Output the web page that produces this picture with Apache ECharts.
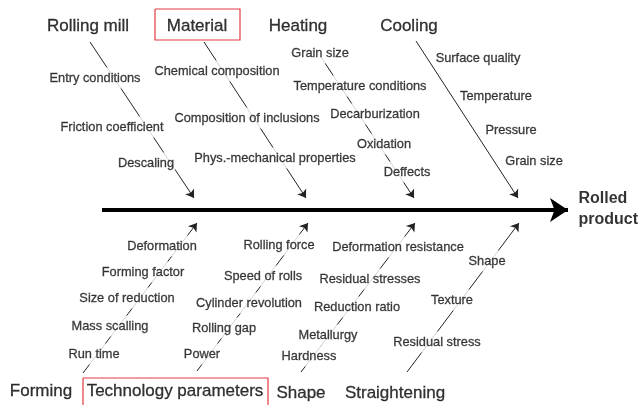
<!DOCTYPE html>
<html>
<head>
<meta charset="utf-8">
<script src="https://cdn.jsdelivr.net/npm/echarts@6/dist/echarts.min.js"></script>
<style>
html, body { margin: 0; padding: 0; background: #fff; }
#main { width: 640px; height: 405px; }
</style>
</head>
<body>
<div id="main"></div>
<script>
// effect and main categories
var effect = ['Rolled', 'product'];
var topCategories = ['Rolling mill', 'Material', 'Heating', 'Cooling'];
var bottomCategories = ['Forming', 'Technology parameters', 'Shape', 'Straightening'];

// causes of each bone (from the head of the bone towards the spine)
var rollingMillCauses = ['Entry conditions', 'Friction coefficient', 'Descaling'];
var materialCauses = ['Chemical composition', 'Composition of inclusions', 'Phys.-mechanical properties'];
var heatingCauses = ['Grain size', 'Temperature conditions', 'Decarburization', 'Oxidation', 'Deffects'];
var coolingCauses = ['Surface quality', 'Temperature', 'Pressure', 'Grain size'];
var formingCauses = ['Run time', 'Mass scalling', 'Size of reduction', 'Forming factor', 'Deformation'];
var technologyCauses = ['Power', 'Rolling gap', 'Cylinder revolution', 'Speed of rolls', 'Rolling force'];
var shapeCauses = ['Hardness', 'Metallurgy', 'Reduction ratio', 'Residual stresses', 'Deformation resistance'];
var straighteningCauses = ['Residual stress', 'Texture', 'Shape'];

// layout (diagram units = pixels of the 640x405 picture)
var spine = [[102, 210], [568, 210]];
var effectPos = [[578, 199], [578, 220]];
var topCategoryPos = [[88, 26], [197, 26], [298, 26], [409, 26]];
var bottomCategoryPos = [[41, 391], [175, 391], [301, 393], [395, 393]];
var topBones = [[[90, 42], [194, 198]], [[204, 42], [306, 198]], [[321, 57], [414, 198]], [[416, 41], [518, 198]]];
var bottomBones = [[[83, 373], [197, 223]], [[197, 371], [308, 223]], [[301, 372], [415, 223]], [[407, 372], [519, 223]]];
var causePos = {
  rollingMill: [[95, 78], [112, 127], [146, 163]],
  material: [[217, 71], [247, 118], [275, 158]],
  heating: [[320, 53], [360, 86], [375, 114], [384, 144], [407, 172]],
  cooling: [[478, 58], [496, 96], [511, 130], [534, 161]],
  forming: [[94, 354], [110, 326], [127, 298], [143, 272], [162, 246]],
  technology: [[202, 354], [224, 328], [249, 303], [263, 276], [279, 245]],
  shape: [[309, 356], [328, 335], [357, 307], [370, 279], [398, 247]],
  straightening: [[437, 342], [452, 300], [487, 261]]
};
var boxes = [[[155, 9], [240, 40]], [[83, 378], [268, 410]]];

function pts (names, pos) {
  return names.map(function (n, i) {
    return { name: n, value: pos[i] };
  });
}

var causes = []
  .concat(pts(rollingMillCauses, causePos.rollingMill))
  .concat(pts(materialCauses, causePos.material))
  .concat(pts(heatingCauses, causePos.heating))
  .concat(pts(formingCauses, causePos.forming))
  .concat(pts(technologyCauses, causePos.technology))
  .concat(pts(shapeCauses, causePos.shape))
  .concat(pts(straighteningCauses, causePos.straightening));
// cooling labels sit beside the bone, no white background
var coolingLabels = pts(coolingCauses, causePos.cooling);

var boneData = topBones.concat(bottomBones).map(function (b) {
  return { coords: b };
});

var boxData = boxes.map(function (b) {
  var a = b[0], c = b[1];
  return { coords: [[a[0], a[1]], [c[0], a[1]], [c[0], c[1]], [a[0], c[1]], [a[0], a[1]]] };
});

var textColor = '#111';
var font = 'Liberation Sans, Arial, sans-serif';
var hidden = { color: 'rgba(0,0,0,0)' };

var chart = echarts.init(document.getElementById('main'));
chart.setOption({
  animation: false,
  grid: { left: 0, right: 0, top: 0, bottom: 0 },
  xAxis: { type: 'value', min: 0, max: 640, show: false },
  yAxis: { type: 'value', min: 0, max: 405, inverse: true, show: false },
  series: [
    {
      type: 'lines',
      coordinateSystem: 'cartesian2d',
      polyline: true,
      z: 1,
      lineStyle: { color: '#e23a42', width: 1.2, opacity: 1 },
      data: boxData
    },
    {
      type: 'lines',
      coordinateSystem: 'cartesian2d',
      z: 2,
      symbol: ['none', 'arrow'],
      symbolSize: 8,
      lineStyle: { color: '#222', width: 1, opacity: 1 },
      data: boneData
    },
    {
      type: 'lines',
      coordinateSystem: 'cartesian2d',
      z: 3,
      symbol: ['none', 'arrow'],
      symbolSize: [15, 18],
      lineStyle: { color: '#000', width: 4, opacity: 1 },
      data: [{ coords: spine }]
    },
    {
      type: 'scatter',
      z: 5,
      symbolSize: 1,
      itemStyle: hidden,
      label: {
        show: true,
        position: 'inside',
        formatter: '{b}',
        color: textColor,
        fontFamily: font,
        fontSize: 12.8,
        textBorderColor: textColor,
        textBorderWidth: 0.3,
        backgroundColor: '#fff',
        padding: [4, 1]
      },
      data: causes
    },
    {
      type: 'scatter',
      z: 5,
      symbolSize: 1,
      itemStyle: hidden,
      label: {
        show: true,
        position: 'inside',
        formatter: '{b}',
        color: textColor,
        fontFamily: font,
        fontSize: 12.8,
        textBorderColor: textColor,
        textBorderWidth: 0.3
      },
      data: coolingLabels
    },
    {
      type: 'scatter',
      z: 5,
      symbolSize: 1,
      itemStyle: hidden,
      label: {
        show: true,
        position: 'inside',
        formatter: '{b}',
        color: '#000',
        fontFamily: font,
        fontSize: 17,
        textBorderColor: '#000',
        textBorderWidth: 0.3
      },
      data: pts(topCategories, topCategoryPos).concat(pts(bottomCategories, bottomCategoryPos))
    },
    {
      type: 'scatter',
      z: 5,
      symbolSize: 1,
      itemStyle: hidden,
      label: {
        show: true,
        position: 'right',
        distance: 0,
        formatter: '{b}',
        color: '#000',
        fontFamily: font,
        fontSize: 16,
        fontWeight: 'bold'
      },
      data: pts(effect, effectPos)
    }
  ]
});
</script>
</body>
</html>
